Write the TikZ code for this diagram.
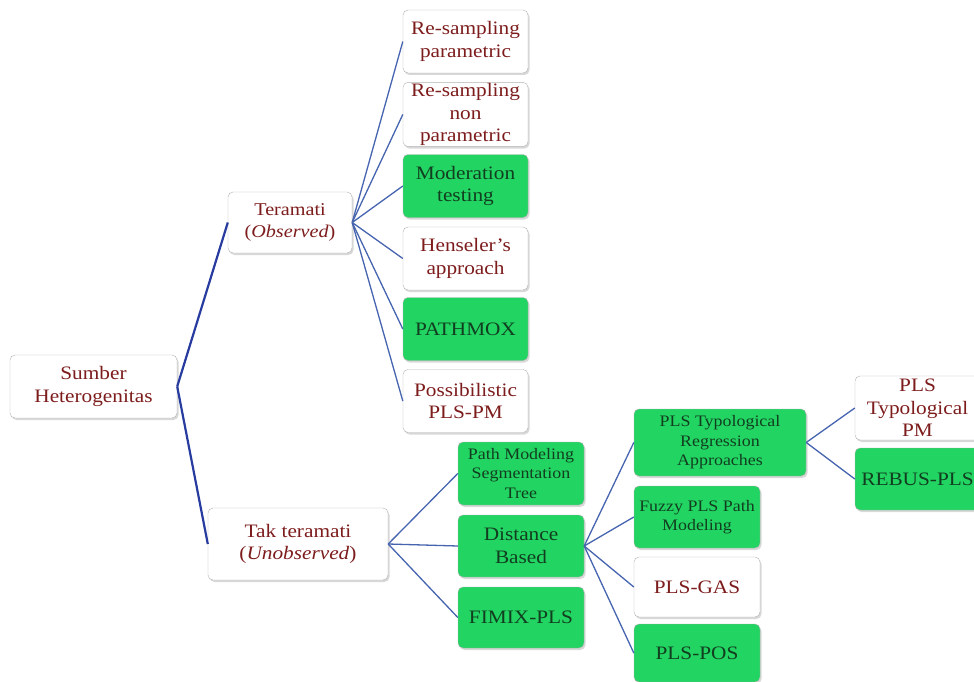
\documentclass[tikz,border=0pt]{standalone}
\usepackage{fontspec}
\setmainfont{Liberation Serif}[FakeStretch=1.12]
\usetikzlibrary{shadows}
\definecolor{boxgreen}{RGB}{34,212,98}
\definecolor{redtxt}{RGB}{125,28,28}
\definecolor{greentxt}{RGB}{18,62,32}
\definecolor{linkblue}{RGB}{70,100,175}
\definecolor{mainblue}{RGB}{40,60,160}
\begin{document}
\begin{tikzpicture}[x=1pt, y=-1pt,
  box/.style={draw=gray!60, rounded corners=5pt, align=center, inner sep=1pt,
    drop shadow={shadow xshift=1.5pt, shadow yshift=-2pt, opacity=.3},
    font=\fontsize{19}{22.5}\selectfont},
  wbox/.style={box, fill=white, text=redtxt},
  gbox/.style={box, fill=boxgreen, text=greentxt},
  small/.style={font=\fontsize{16}{19.5}\selectfont},
  link/.style={draw=linkblue, line width=1.3pt},
  mainlink/.style={draw=mainblue, line width=2.2pt}]

\clip (0,0) rectangle (974,682);
\fill[white] (0,0) rectangle (974,682);

% root and first level
\node[wbox, minimum width=167pt, minimum height=63pt] (root) at (93.5,386.5) {Sumber\\Heterogenitas};
\node[wbox, minimum width=124pt, minimum height=61pt, font=\fontsize{18}{22}\selectfont] (obs) at (290,222.5) {Teramati\\(\textit{Observed})};
\node[wbox, minimum width=180pt, minimum height=72pt] (unobs) at (298,544) {Tak teramati\\(\textit{Unobserved})};

% observed branch
\node[wbox, minimum width=125pt, minimum height=63pt] (rspar) at (465.5,41.5) {Re-sampling\\parametric};
\node[wbox, minimum width=125pt, minimum height=63pt] (rsnon) at (465.5,114.5) {Re-sampling\\non\\parametric};
\node[gbox, minimum width=125pt, minimum height=63pt] (moder) at (465.5,186) {Moderation\\testing};
\node[wbox, minimum width=125pt, minimum height=63pt] (hens) at (465.5,258.5) {Henseler's\\approach};
\node[gbox, minimum width=125pt, minimum height=63pt] (pmox) at (465.5,329) {PATHMOX};
\node[wbox, minimum width=125pt, minimum height=63pt] (possib) at (465.5,401) {Possibilistic\\PLS-PM};

% unobserved branch
\node[gbox, small, minimum width=126pt, minimum height=63pt] (pmst) at (521,473.5) {Path Modeling\\Segmentation\\Tree};
\node[gbox, minimum width=126pt, minimum height=62pt] (dist) at (521,546) {Distance\\Based};
\node[gbox, minimum width=126pt, minimum height=61pt] (fimix) at (521,617.5) {FIMIX-PLS};

% distance based
\node[gbox, small, minimum width=172pt, minimum height=67pt] (pltr) at (720,442.5) {PLS Typological\\Regression\\Approaches};
\node[gbox, small, minimum width=126pt, minimum height=62pt] (fuzzy) at (697,517) {Fuzzy PLS Path\\Modeling};
\node[wbox, minimum width=126pt, minimum height=60pt] (gas) at (697,587) {PLS-GAS};
\node[gbox, minimum width=126pt, minimum height=58pt] (plspos) at (697,653) {PLS-POS};

% typological
\node[wbox, minimum width=125pt, minimum height=64pt] (ptpm) at (917.5,408) {PLS\\Typological\\PM};
\node[gbox, minimum width=125pt, minimum height=62pt] (rebus) at (917.5,479) {REBUS-PLS};

% connectors
\foreach \c in {obs,unobs}
\draw[mainlink] (root.east) -- (\c.west);

\foreach \c in {rspar,rsnon,moder,hens,pmox,possib}
\draw[link] (obs.east) -- (\c.west);

\foreach \c in {pmst,dist,fimix}
\draw[link] (unobs.east) -- (\c.west);

\foreach \c in {pltr,fuzzy,gas,plspos}
\draw[link] (dist.east) -- (\c.west);

\foreach \c in {ptpm,rebus}
\draw[link] (pltr.east) -- (\c.west);
\end{tikzpicture}
\end{document}
